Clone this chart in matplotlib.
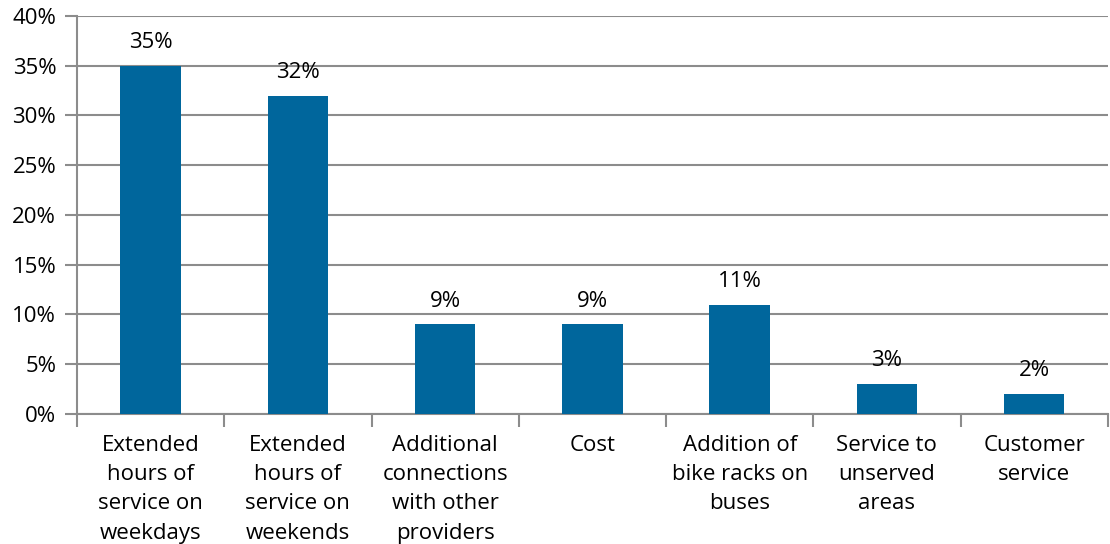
import matplotlib.pyplot as plt
from matplotlib.ticker import FixedLocator, PercentFormatter

categories = [
    "Extended\nhours of\nservice on\nweekdays",
    "Extended\nhours of\nservice on\nweekends",
    "Additional\nconnections\nwith other\nproviders",
    "Cost",
    "Addition of\nbike racks on\nbuses",
    "Service to\nunserved\nareas",
    "Customer\nservice",
]
values = [35, 32, 9, 9, 11, 3, 2]
labels = ["35%", "32%", "9%", "9%", "11%", "3%", "2%"]

plt.rcParams["font.family"] = ["Open Sans", "DejaVu Sans"]
grey = "#8c8c8c"

fig = plt.figure(figsize=(11.1, 5.44), dpi=100)
ax = fig.add_axes([0.0694, 0.239, 0.9286, 0.7316])

x = list(range(len(values)))
bars = ax.bar(x, values, width=0.41, color="#00669c", zorder=3)

for rect, lab in zip(bars, labels):
    ax.text(rect.get_x() + rect.get_width() / 2, rect.get_height() + 1.3, lab,
            ha="center", va="bottom", fontsize=16, color="black", zorder=4)

ax.set_xlim(-0.5, len(values) - 0.5)
ax.set_ylim(0, 40)
ax.set_yticks(range(0, 41, 5))
ax.yaxis.set_major_formatter(PercentFormatter(decimals=0))
ax.yaxis.grid(True, color=grey, linewidth=1.5, zorder=0)

# category labels in the middle, tick marks on the boundaries
ax.set_xticks(x)
ax.set_xticklabels(categories, fontsize=16, linespacing=1.52)
ax.tick_params(axis="x", which="major", length=0, pad=15)
ax.xaxis.set_minor_locator(FixedLocator([i - 0.5 for i in range(len(values) + 1)]))
ax.tick_params(axis="x", which="minor", length=9, width=1.5, color=grey)
ax.tick_params(axis="y", length=9, width=1.5, color=grey, labelsize=16, pad=6)

for side in ["top", "right"]:
    ax.spines[side].set_visible(False)
for side in ["left", "bottom"]:
    ax.spines[side].set_color(grey)
    ax.spines[side].set_linewidth(1.5)

fig.savefig("out.png", dpi=100)
